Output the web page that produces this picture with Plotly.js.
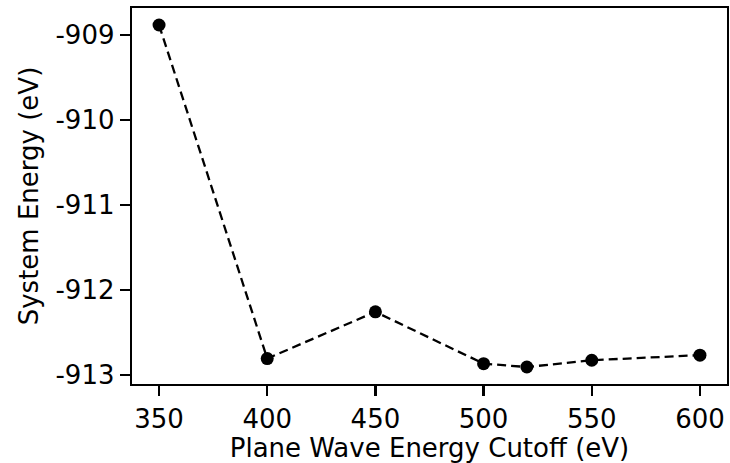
<!DOCTYPE html>
<html>
<head>
<meta charset="utf-8">
<script src="https://cdn.plot.ly/plotly-3.0.1.min.js"></script>
<style>html,body{margin:0;padding:0;background:#fff;}#chart{width:730px;height:463px;}</style>
</head>
<body>
<div id="chart"></div>
<script>
const cutoffs = [350, 400, 450, 500, 520, 550, 600];
const energies = [-908.88, -912.81, -912.26, -912.87, -912.91, -912.83, -912.77];
const xTicks = [350, 400, 450, 500, 550, 600];
const yTicks = [-913, -912, -911, -910, -909];

const trace = {
  x: cutoffs,
  y: energies,
  mode: 'lines+markers',
  line: {color: '#000', width: 2.3, dash: '9px,5px'},
  marker: {color: '#000', size: 13},
  cliponaxis: false,
  showlegend: false
};

const font = {family: 'DejaVu Sans', size: 26, color: '#000'};

const layout = {
  width: 730, height: 463,
  margin: {l: 132, r: 3, t: 8, b: 79},
  paper_bgcolor: '#fff', plot_bgcolor: '#fff',
  font: font,
  xaxis: {
    range: [337.5, 612.5],
    tickvals: xTicks,
    ticktext: xTicks.map(String),
    ticks: 'outside', ticklen: 10, tickwidth: 2.3, tickcolor: '#000',
    showline: true, linewidth: 2.3, linecolor: '#000', mirror: true,
    showgrid: false, zeroline: false,
    tickfont: font,
    title: {text: 'Plane Wave Energy Cutoff (eV)', font: font, standoff: 0}
  },
  yaxis: {
    range: [-913.11, -908.68],
    tickvals: yTicks,
    ticktext: yTicks.map(String),
    ticks: 'outside', ticklen: 10, tickwidth: 2.3, tickcolor: '#000',
    showline: true, linewidth: 2.3, linecolor: '#000', mirror: true,
    showgrid: false, zeroline: false,
    tickfont: font,
    title: {text: 'System Energy (eV)', font: font, standoff: 10}
  }
};

Plotly.newPlot('chart', [trace], layout, {displayModeBar: false, staticPlot: true});
</script>
</body>
</html>
